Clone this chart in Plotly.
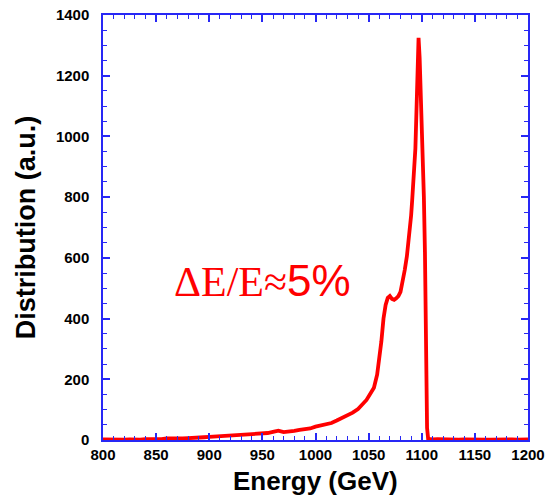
import plotly.graph_objects as go

# Beam energy spectrum (GeV) and its distribution (arbitrary units)
energy = [800, 805, 810, 815, 820, 825, 830, 835, 840, 845, 850, 855, 860, 865, 870,
          875, 880, 885, 890, 895, 900, 905, 910, 915, 920, 925, 930, 935, 940, 945,
          950, 955, 960, 965, 970, 975, 980, 985, 990, 995, 1000, 1005, 1010, 1015,
          1020, 1025, 1030, 1035, 1040, 1044, 1048, 1052, 1055, 1058, 1060, 1062,
          1064, 1066, 1068, 1070, 1072, 1074, 1076, 1078, 1080, 1082, 1084, 1086,
          1088, 1090, 1091, 1092, 1093, 1094, 1095, 1096, 1097, 1098, 1099, 1100,
          1101, 1102, 1103, 1104, 1105, 1106, 1108, 1110, 1115, 1120, 1125, 1130,
          1135, 1140, 1145, 1150, 1155, 1160, 1165, 1170, 1175, 1180, 1185, 1190,
          1195, 1200]
distribution = [2, 1, 3, 2, 1, 2, 0, 1, 3, 2, 4, 3, 5, 4, 6,
                5, 6, 8, 7, 9, 10, 11, 12, 14, 15, 17, 17, 19, 20, 21,
                22, 23, 27, 31, 26, 27, 30, 33, 35, 38, 44, 48, 50, 56,
                64, 72, 80, 90, 102, 118, 132, 155, 172, 215, 262, 325,
                400, 445, 468, 474, 465, 462, 467, 474, 488, 520, 560, 605,
                660, 740, 790, 850, 900, 960, 1080, 1230, 1325, 1260, 1150, 1050,
                930, 800, 620, 320, 40, 4, 3, 2, 3, 2, 1, 2,
                1, 2, 1, 1, 2, 1, 1, 2, 1, 1, 2, 1,
                1, 2]

x_ticks = [800, 850, 900, 950, 1000, 1050, 1100, 1150, 1200]
y_ticks = [0, 200, 400, 600, 800, 1000, 1200, 1400]

axis_blue = "rgb(40,40,245)"
tick_font = dict(family="Liberation Sans", size=15, color="black", weight="bold")
title_font = dict(family="Liberation Sans", size=27, color="black", weight="bold")

fig = go.Figure()
fig.add_trace(go.Scatter(
    x=energy, y=distribution, mode="lines",
    line=dict(color="rgb(255,0,0)", width=3.8),
    showlegend=False,
))

fig.add_annotation(
    x=950, y=527, xref="x", yref="y",
    text='<span style="font-family:Liberation Serif">ΔE/E≈</span>'
         '<span style="font-size:44px">5%</span>',
    showarrow=False, xanchor="center", yanchor="middle",
    font=dict(family="Liberation Sans", size=42, color="rgb(255,0,0)"),
)

# x-axis title placed just under the tick labels
fig.add_annotation(
    x=0.5, y=-0.096, xref="paper", yref="paper",
    text="Energy (GeV)", showarrow=False,
    xanchor="center", yanchor="middle",
    font=dict(family="Liberation Sans", size=26, color="black", weight="bold"),
)

fig.update_xaxes(
    range=[800, 1200], tickvals=x_ticks, ticktext=[str(v) for v in x_ticks],
    showgrid=False, zeroline=False, automargin=False,
    showline=True, linecolor=axis_blue, linewidth=1.5, mirror="ticks",
    ticks="inside", ticklen=7, tickwidth=1.5, tickcolor=axis_blue,
    minor=dict(dtick=10, ticks="inside", ticklen=4, tickwidth=1.2, tickcolor=axis_blue),
    tickfont=tick_font,
)
fig.update_yaxes(
    range=[0, 1400], tickvals=y_ticks, ticktext=[str(v) for v in y_ticks],
    showgrid=False, zeroline=False, automargin=False,
    showline=True, linecolor=axis_blue, linewidth=1.5, mirror="ticks",
    ticks="inside", ticklen=7, tickwidth=1.5, tickcolor=axis_blue,
    minor=dict(dtick=50, ticks="inside", ticklen=4, tickwidth=1.2, tickcolor=axis_blue),
    tickfont=tick_font, ticklabelstandoff=9,
    title=dict(text="Distribution (a.u.)", font=title_font, standoff=12),
)

fig.update_layout(
    width=547, height=497,
    margin=dict(l=103, r=19, t=15, b=57),
    paper_bgcolor="white", plot_bgcolor="white",
)

fig.write_html("out.html")
